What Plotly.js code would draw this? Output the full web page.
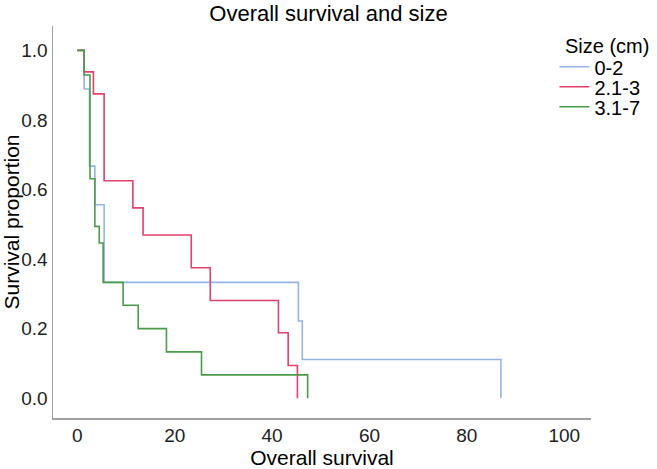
<!DOCTYPE html>
<html>
<head>
<meta charset="utf-8">
<script src="https://cdn.plot.ly/plotly-3.0.1.min.js"></script>
<style>html,body{margin:0;padding:0;background:#fff;}#chart{width:657px;height:469px;}</style>
</head>
<body>
<div id="chart"></div>
<script>
// Kaplan-Meier step data
const seriesNames = ["0-2", "2.1-3", "3.1-7"];
const timeSmall = [0, 1.4, 2.5, 3.6, 5.5, 45.4, 46.2, 87.0];
const survSmall = [1, 0.889, 0.667, 0.556, 0.333, 0.222, 0.111, 0];
const timeMid = [0, 1.4, 3.3, 5.5, 11.4, 13.5, 23.4, 27.3, 41.3, 43.3, 45.2];
const survMid = [1, 0.938, 0.875, 0.625, 0.547, 0.469, 0.375, 0.281, 0.188, 0.094, 0];
const timeLarge = [0, 1.4, 2.6, 3.6, 4.5, 5.3, 9.4, 12.5, 18.3, 25.5, 47.3];
const survLarge = [1, 0.929, 0.631, 0.494, 0.446, 0.333, 0.267, 0.2, 0.133, 0.067, 0];
const xTicks = [0, 20, 40, 60, 80, 100];
const yTicks = [0, 0.2, 0.4, 0.6, 0.8, 1.0];
const legendTitle = "Size (cm)";

const colors = ["#93b6e6", "#e3406b", "#4a9c4a"];
const xs = [timeSmall, timeMid, timeLarge];
const ys = [survSmall, survMid, survLarge];
const legendIds = ["legend", "legend2", "legend3"];
const legendY = [0.896, 0.845, 0.794];

const traces = seriesNames.map((n, i) => ({
  type: "scatter", mode: "lines", name: n,
  x: xs[i], y: ys[i], legend: legendIds[i],
  line: {shape: "hv", color: colors[i], width: 1.6}
}));

const font = "Liberation Sans, Arial, sans-serif";
const layout = {
  width: 657, height: 469,
  margin: {l: 53, r: 60, t: 26, b: 51},
  paper_bgcolor: "#fff", plot_bgcolor: "#fff",
  font: {family: font, color: "#000"},
  title: {text: "Overall survival and size", font: {size: 22, family: font, color: "#000"}, x: 0.5, xanchor: "center", y: 0.987, yanchor: "top"},
  xaxis: {
    range: [-5, 105.5], tickvals: xTicks, ticktext: xTicks.map(String),
    showgrid: false, zeroline: false, showline: true, linecolor: "#a0a0a0", linewidth: 1.5,
    ticks: "", tickfont: {size: 19, color: "#222"},
    title: {text: "Overall survival", font: {size: 21, color: "#000"}, standoff: 2}
  },
  yaxis: {
    range: [-0.057, 1.07], tickvals: yTicks, ticktext: yTicks.map(v => v.toFixed(1)),
    showgrid: false, zeroline: false, showline: true, linecolor: "#a0a0a0", linewidth: 1.5,
    ticks: "", tickfont: {size: 19, color: "#222"},
    title: {text: "Survival proportion", font: {size: 21, color: "#000"}, standoff: 2}
  },
  annotations: [{
    text: legendTitle, xref: "paper", yref: "paper", x: 0.9485, y: 0.95,
    xanchor: "left", yanchor: "middle", showarrow: false,
    font: {size: 20, color: "#000"}
  }],
  showlegend: true
};
legendIds.forEach((id, i) => {
  layout[id] = {
    x: 0.932, xanchor: "left", y: legendY[i], yanchor: "middle",
    bgcolor: "rgba(0,0,0,0)", borderwidth: 0,
    font: {size: 20, color: "#000"}, itemwidth: 30
  };
});

Plotly.newPlot("chart", traces, layout, {displayModeBar: false, staticPlot: true});
</script>
</body>
</html>
